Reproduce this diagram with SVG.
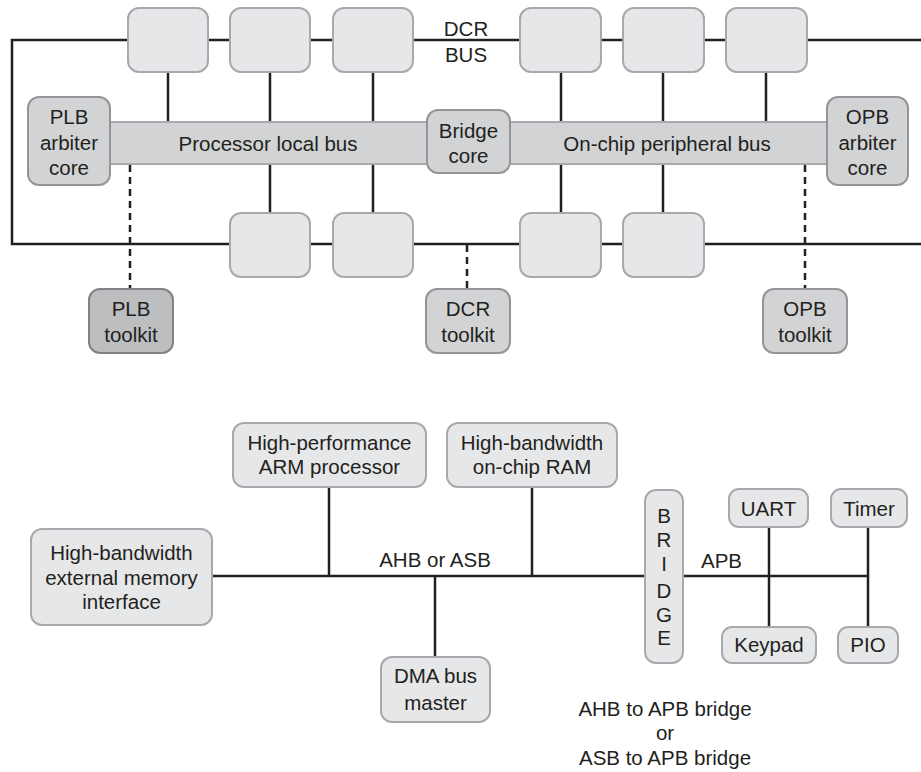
<svg xmlns="http://www.w3.org/2000/svg" width="921" height="772" viewBox="0 0 921 772">
<style>
  text { font-family: "Liberation Sans", Arial, sans-serif; font-size: 20.5px; fill: #231f20; text-anchor: middle; }
  .ln { stroke: #231f20; stroke-width: 2.5; fill: none; }
  .dash { stroke: #231f20; stroke-width: 2.5; fill: none; stroke-dasharray: 7 5; }
  .lt { fill: #e6e7e8; stroke: #a7a9ac; stroke-width: 2; }
  .md { fill: #d1d3d4; stroke: #939598; stroke-width: 2; }
  .dk { fill: #bcbec0; stroke: #808285; stroke-width: 2; }
  .bus { fill: #d1d3d4; stroke: #a7a9ac; stroke-width: 2; }
</style>

<g id="connectors">
  <!-- DCR bus loop -->
  <polyline class="ln" points="921,40 12,40 12,244 921,244"/>
  <!-- top box drops -->
  <line class="ln" x1="168" y1="72" x2="168" y2="122"/>
  <line class="ln" x1="270" y1="72" x2="270" y2="122"/>
  <line class="ln" x1="373" y1="72" x2="373" y2="122"/>
  <line class="ln" x1="561" y1="72" x2="561" y2="122"/>
  <line class="ln" x1="663" y1="72" x2="663" y2="122"/>
  <line class="ln" x1="766" y1="72" x2="766" y2="122"/>
  <!-- bottom box drops -->
  <line class="ln" x1="270" y1="164" x2="270" y2="213"/>
  <line class="ln" x1="373" y1="164" x2="373" y2="213"/>
  <line class="ln" x1="561" y1="164" x2="561" y2="213"/>
  <line class="ln" x1="663" y1="164" x2="663" y2="213"/>
  <!-- dashed toolkit links -->
  <line class="dash" x1="130" y1="165" x2="130" y2="289"/>
  <line class="dash" x1="467" y1="245" x2="467" y2="289"/>
  <line class="dash" x1="805" y1="165" x2="805" y2="289"/>

  <!-- AMBA -->
  <line class="ln" x1="212" y1="576" x2="645" y2="576"/>
  <line class="ln" x1="329" y1="487" x2="329" y2="576"/>
  <line class="ln" x1="532" y1="487" x2="532" y2="576"/>
  <line class="ln" x1="435" y1="576" x2="435" y2="657"/>
  <line class="ln" x1="683" y1="576" x2="868" y2="576"/>
  <line class="ln" x1="769" y1="527" x2="769" y2="627"/>
  <line class="ln" x1="868" y1="527" x2="868" y2="627"/>
</g>

<g id="dcr-label">
  <text x="466" y="36">DCR</text>
  <text x="466" y="62">BUS</text>
</g>

<g id="plb-bus">
  <rect class="bus" x="108" y="122" width="322" height="42"/>
  <text x="268" y="151">Processor local bus</text>
</g>
<g id="opb-bus">
  <rect class="bus" x="508" y="122" width="321" height="42"/>
  <text x="667" y="151">On-chip peripheral bus</text>
</g>

<g id="top-box-1"><rect class="lt" x="128" y="8" width="80" height="64" rx="11"/></g>
<g id="top-box-2"><rect class="lt" x="230" y="8" width="80" height="64" rx="11"/></g>
<g id="top-box-3"><rect class="lt" x="333" y="8" width="80" height="64" rx="11"/></g>
<g id="top-box-4"><rect class="lt" x="520" y="8" width="81" height="64" rx="11"/></g>
<g id="top-box-5"><rect class="lt" x="623" y="8" width="81" height="64" rx="11"/></g>
<g id="top-box-6"><rect class="lt" x="726" y="8" width="81" height="64" rx="11"/></g>

<g id="bot-box-1"><rect class="lt" x="230" y="213" width="80" height="64" rx="11"/></g>
<g id="bot-box-2"><rect class="lt" x="333" y="213" width="80" height="64" rx="11"/></g>
<g id="bot-box-3"><rect class="lt" x="520" y="213" width="81" height="64" rx="11"/></g>
<g id="bot-box-4"><rect class="lt" x="623" y="213" width="81" height="64" rx="11"/></g>

<g id="plb-arbiter">
  <rect class="md" x="28" y="97" width="82" height="88" rx="11"/>
  <text x="69" y="124">PLB</text>
  <text x="69" y="150">arbiter</text>
  <text x="69" y="175">core</text>
</g>
<g id="bridge-core">
  <rect class="md" x="427" y="110" width="83" height="63" rx="11"/>
  <text x="468.5" y="138">Bridge</text>
  <text x="468.5" y="163">core</text>
</g>
<g id="opb-arbiter">
  <rect class="md" x="827" y="97" width="81" height="88" rx="11"/>
  <text x="867.5" y="124">OPB</text>
  <text x="867.5" y="150">arbiter</text>
  <text x="867.5" y="175">core</text>
</g>

<g id="plb-toolkit">
  <rect class="dk" x="89" y="289" width="84" height="64" rx="11"/>
  <text x="131" y="316">PLB</text>
  <text x="131" y="342">toolkit</text>
</g>
<g id="dcr-toolkit">
  <rect class="md" x="426" y="289" width="84" height="64" rx="11"/>
  <text x="468" y="316">DCR</text>
  <text x="468" y="342">toolkit</text>
</g>
<g id="opb-toolkit">
  <rect class="md" x="763" y="289" width="84" height="64" rx="11"/>
  <text x="805" y="316">OPB</text>
  <text x="805" y="342">toolkit</text>
</g>

<!-- AMBA section -->
<g id="arm-processor">
  <rect class="lt" x="233" y="423" width="193" height="64" rx="11"/>
  <text x="329.5" y="450">High-performance</text>
  <text x="329.5" y="474">ARM processor</text>
</g>
<g id="onchip-ram">
  <rect class="lt" x="447" y="423" width="170" height="64" rx="11"/>
  <text x="532" y="450">High-bandwidth</text>
  <text x="532" y="474">on-chip RAM</text>
</g>
<g id="ext-memory">
  <rect class="lt" x="31" y="529" width="181" height="96" rx="11"/>
  <text x="121.5" y="560">High-bandwidth</text>
  <text x="121.5" y="585">external memory</text>
  <text x="121.5" y="609">interface</text>
</g>
<g id="ahb-label">
  <text x="435" y="567">AHB or ASB</text>
</g>
<g id="dma-master">
  <rect class="lt" x="381" y="657" width="109" height="65" rx="11"/>
  <text x="435.5" y="683">DMA bus</text>
  <text x="435.5" y="710">master</text>
</g>
<g id="bridge">
  <rect class="lt" x="645" y="490" width="38" height="173" rx="11"/>
  <text x="664" y="523">B</text>
  <text x="664" y="547">R</text>
  <text x="664" y="571">I</text>
  <text x="664" y="598">D</text>
  <text x="664" y="622">G</text>
  <text x="664" y="645">E</text>
</g>
<g id="apb-label">
  <text x="721.5" y="568">APB</text>
</g>
<g id="uart">
  <rect class="lt" x="729" y="489" width="79" height="38" rx="10"/>
  <text x="768.5" y="516">UART</text>
</g>
<g id="timer">
  <rect class="lt" x="831" y="489" width="76" height="38" rx="10"/>
  <text x="869" y="516">Timer</text>
</g>
<g id="keypad">
  <rect class="lt" x="722" y="627" width="94" height="36" rx="10"/>
  <text x="769" y="652">Keypad</text>
</g>
<g id="pio">
  <rect class="lt" x="838" y="627" width="60" height="36" rx="10"/>
  <text x="868" y="652">PIO</text>
</g>
<g id="caption">
  <text x="665" y="716">AHB to APB bridge</text>
  <text x="665" y="740">or</text>
  <text x="665" y="765">ASB to APB bridge</text>
</g>
</svg>
